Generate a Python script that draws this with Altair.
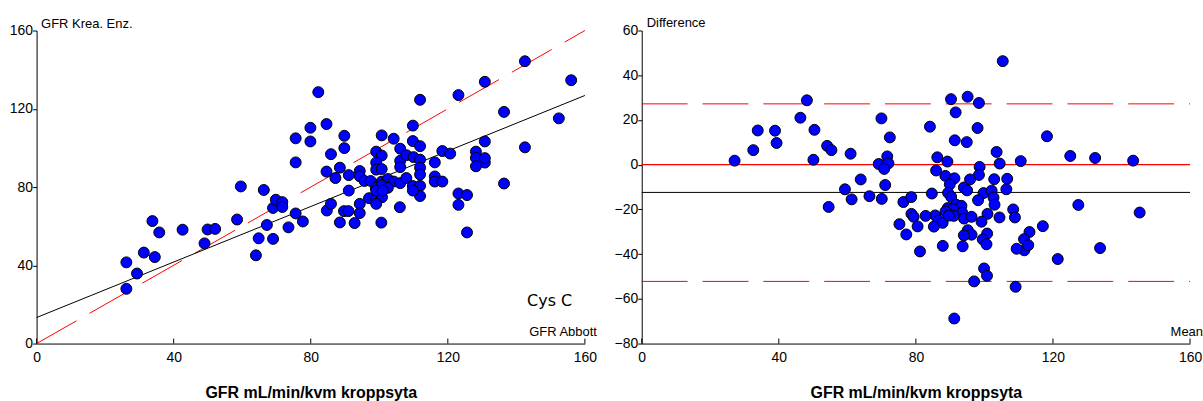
import altair as alt
import pandas as pd

# GFR Abbott (Cys C) on x, GFR Krea. Enz. on y
abbott = [26.2, 26.2, 29.3, 31.3, 33.8, 34.5, 35.8, 42.6, 49.0, 49.9, 52.1, 58.5,
          64.0, 64.8, 67.2, 69.0, 69.0, 69.8, 71.7, 71.7, 73.5, 75.6, 77.7, 84.7,
          85.9, 88.5, 89.7, 91.0, 91.1, 66.3, 59.6,
          82.2, 84.6, 79.9, 75.6, 79.9, 89.8, 89.8, 85.9, 75.6, 84.6, 88.5, 87.2, 91.1,
          100.7, 104.2, 106.1, 111.9, 109.8, 109.8, 111.9, 123.1, 130.8, 142.5, 156.0,
          136.4, 152.4, 130.8, 142.5, 118.4, 120.7, 128.2, 128.2, 130.8, 128.2, 130.8,
          116.2, 116.2, 116.2, 118.4, 136.4, 123.1, 125.6, 123.1, 125.6, 99.1, 100.7,
          106.1, 106.1, 107.9, 110.0, 111.9, 111.9, 111.9, 99.1, 99.1, 100.7,
          94.3, 94.3, 95.7, 97.5, 100.7, 102.5, 104.2, 106.1, 107.9, 109.8, 111.9,
          99.0, 100.7, 102.5, 111.9, 97.0, 99.1, 100.8, 99.1, 101.0, 109.8, 99.1, 94.3,
          94.3, 92.8, 100.6, 106.0]
krea = [41.5, 28.0, 35.8, 46.5, 62.6, 44.2, 56.8, 58.2, 51.2, 58.3, 58.6, 63.4,
        45.1, 53.8, 60.6, 53.5, 69.3, 73.5, 72.3, 69.8, 59.4, 66.5, 62.4, 68.0,
        71.4, 61.9, 67.7, 67.7, 78.2, 78.5, 80.3,
        128.5, 112.2, 110.3, 104.9, 103.3, 106.2, 99.9, 96.8, 92.6, 87.9, 89.9, 84.6, 86.1,
        106.4, 104.7, 99.6, 124.6, 111.4, 103.5, 100.9, 127.0, 133.8, 144.3, 134.6,
        118.4, 115.1, 103.3, 100.3, 98.4, 97.1, 98.1, 94.9, 92.5, 90.6, 94.8,
        92.6, 85.4, 82.8, 82.8, 81.8, 76.7, 75.9, 70.9, 56.8, 98.1, 96.1,
        93.4, 90.2, 96.3, 95.3, 94.0, 89.9, 86.4, 92.5, 88.9, 89.2,
        88.2, 85.5, 83.1, 83.1, 82.8, 84.1, 82.8, 82.0, 84.6, 80.5, 80.6,
        79.6, 80.8, 79.6, 75.4, 74.3, 74.1, 74.8, 78.2, 78.2, 78.2, 71.4, 71.4,
        66.7, 61.6, 61.8, 69.7]

# reference lines
ident_x = [0, 160]
ident_y = [0, 160]
reg_x = [0, 160]
reg_y = [13.3, 126.8]
zero_line = 0
mean_diff = -12.4
upper_loa = 27.2
lower_loa = -52.2

x_ticks = [0, 40, 80, 120, 160]
y_ticks_left = [0, 40, 80, 120, 160]
y_ticks_right = [-80, -60, -40, -20, 0, 20, 40, 60]

W, H = 550, 314
FONT = "Liberation Sans"
XTITLE = "GFR mL/min/kvm kroppsyta"
DASH = [46, 15]

pts = pd.DataFrame({"x": abbott, "y": krea})
ba = pd.DataFrame({"x": (pts["x"] + pts["y"]) / 2, "y": pts["y"] - pts["x"]})


def xenc(domain):
    return alt.X("x:Q", scale=alt.Scale(domain=domain, nice=False, zero=False),
                 axis=alt.Axis(values=x_ticks, ticks=False, labelPadding=7,
                               labelFlush=False,
                               title=XTITLE, titleFont=FONT,
                               titleFontSize=16, titleFontWeight="bold",
                               titlePadding=20, titleColor="black"))


def yenc(domain, ticks):
    return alt.Y("y:Q", scale=alt.Scale(domain=domain, nice=False, zero=False),
                 axis=alt.Axis(values=ticks, tickSize=4, labelPadding=0,
                               labelFlush=False, title=None))


def note(text, x, y, align="left", font=FONT, size=13):
    return alt.Chart(pd.DataFrame({"t": [text]})).mark_text(
        align=align, baseline="alphabetic", font=font, fontSize=size, color="black"
    ).encode(x=alt.value(x), y=alt.value(y), text="t:N")


def inward_ticks(domain):
    return alt.Chart(pd.DataFrame({"x": x_ticks})).mark_rule(
        color="black", strokeWidth=1
    ).encode(x=xenc(domain), y=alt.value(H), y2=alt.value(H - 5))


def hline(value, color, dash=None, width=1.0, domain=(0, 160), ydom=(-80, 60)):
    df = pd.DataFrame({"x": [domain[0]], "x2": [domain[1]], "y": [value]})
    kw = dict(color=color, strokeWidth=width)
    if dash:
        kw["strokeDash"] = dash
    return alt.Chart(df).mark_rule(**kw).encode(
        x=xenc(list(domain)), x2="x2:Q", y=yenc(list(ydom), y_ticks_right))


def dots(df, xd, yd, yt):
    return alt.Chart(df).mark_point(
        shape="circle", filled=True, fill="#0000FF", stroke="black",
        strokeWidth=1, size=120, opacity=1
    ).encode(x=xenc(xd), y=yenc(yd, yt))


# ---------- left panel ----------
LX = [0, 160]
LY = [0, 160]
ident = alt.Chart(pd.DataFrame({"x": ident_x, "y": ident_y})).mark_line(
    color="#FF0000", strokeWidth=1, strokeDash=DASH
).encode(x=xenc(LX), y=yenc(LY, y_ticks_left))
reg = alt.Chart(pd.DataFrame({"x": reg_x, "y": reg_y})).mark_line(
    color="black", strokeWidth=1
).encode(x=xenc(LX), y=yenc(LY, y_ticks_left))

left = alt.layer(
    ident, reg, dots(pts, LX, LY, y_ticks_left), inward_ticks(LX),
    note("GFR Krea. Enz.", 4.5, -2.5),
    note("Cys C", 492, 276, font="DejaVu Sans", size=16),
    note("GFR Abbott", W + 12, 306.5, align="right"),
).properties(width=W, height=H)

# ---------- right panel ----------
RX = [0, 160]
RY = [-80, 60]
right = alt.layer(
    hline(zero_line, "#FF0000", width=1.2),
    hline(mean_diff, "black"),
    hline(upper_loa, "#FF0000", dash=DASH),
    hline(lower_loa, "#FF0000", dash=DASH),
    dots(ba, RX, RY, y_ticks_right), inward_ticks(RX),
    note("Difference", 5, -3.3),
    note("Mean", W + 13, 306.5, align="right"),
).properties(width=W, height=H)

chart = alt.hconcat(left, right, spacing=17).properties(
    padding={"left": 8.7, "top": 16, "right": 0, "bottom": 0}
).configure_view(stroke=None).configure_axis(
    grid=False, domainColor="black", domainWidth=1, tickColor="black",
    labelColor="black", labelFont=FONT, labelFontSize=14
)

chart.save("out.html", embed_options={"renderer": "svg", "actions": False})
